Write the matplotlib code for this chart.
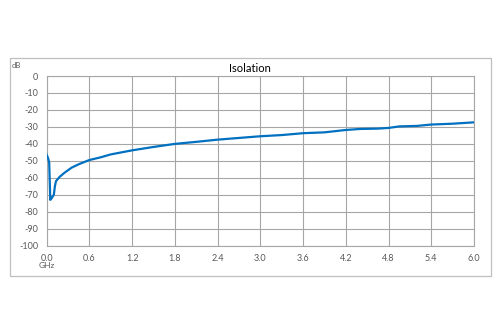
import matplotlib
matplotlib.use("Agg")
import matplotlib.pyplot as plt
from matplotlib.patches import Rectangle

# Isolation vs frequency
freq_ghz = [0.0, 0.02, 0.035, 0.045, 0.05, 0.07, 0.1, 0.115, 0.13, 0.18, 0.25,
            0.35, 0.45, 0.6, 0.75, 0.9, 1.05, 1.2, 1.5, 1.8, 2.1, 2.4, 2.7,
            3.0, 3.3, 3.6, 3.9, 4.2, 4.4, 4.65, 4.8, 4.95, 5.2, 5.4, 5.7, 6.0]
isolation_db = [-46.5, -48.5, -51, -65, -73, -72, -70, -65, -62, -59.5, -57,
                -54, -52, -49.5, -48, -46.2, -45, -43.8, -41.8, -40, -38.8,
                -37.5, -36.5, -35.5, -34.8, -33.7, -33.2, -31.8, -31.2, -31.0,
                -30.6, -29.7, -29.4, -28.6, -28.1, -27.3]

x_ticks = [0.0, 0.6, 1.2, 1.8, 2.4, 3.0, 3.6, 4.2, 4.8, 5.4, 6.0]
y_ticks = list(range(-100, 1, 10))

plt.rcParams['font.family'] = ['Lato', 'DejaVu Sans']

fig = plt.figure(figsize=(5.0, 3.34), dpi=100)
fig.patch.set_facecolor('white')

# outer chart frame
fig.patches.append(Rectangle((0.019, 0.1746), 0.9636, 0.6509,
                             transform=fig.transFigure, fill=False,
                             edgecolor='#BFBFBF', linewidth=0.9))

ax = fig.add_axes([0.0934, 0.2644, 0.8546, 0.508])
ax.plot(freq_ghz, isolation_db, color='#0070C0', linewidth=1.6,
        solid_joinstyle='round', zorder=3)

ax.set_xlim(0, 6)
ax.set_ylim(-100, 0)
ax.set_xticks(x_ticks)
ax.set_xticklabels([f"{v:.1f}" for v in x_ticks])
ax.set_yticks(y_ticks)
ax.set_yticklabels([str(v) for v in y_ticks])
ax.grid(True, color='#A6A6A6', linewidth=0.8)
ax.set_axisbelow(True)
for s in ax.spines.values():
    s.set_color('#A6A6A6')
    s.set_linewidth(0.8)
ax.tick_params(length=0, labelsize=6.5, labelcolor='#595959', pad=6)

fig.text(0.5, 1 - 68 / 334, "Isolation", ha='center', va='center',
         fontsize=8, color='#000000')
fig.text(0.024, 1 - 65 / 334, "dB", ha='left', va='center',
         fontsize=5.5, color='#595959')
fig.text(46.7 / 500, 1 - 266 / 334, "GHz", ha='center', va='center',
         fontsize=6, color='#595959')

fig.savefig("out.png", dpi=100, facecolor='white')
